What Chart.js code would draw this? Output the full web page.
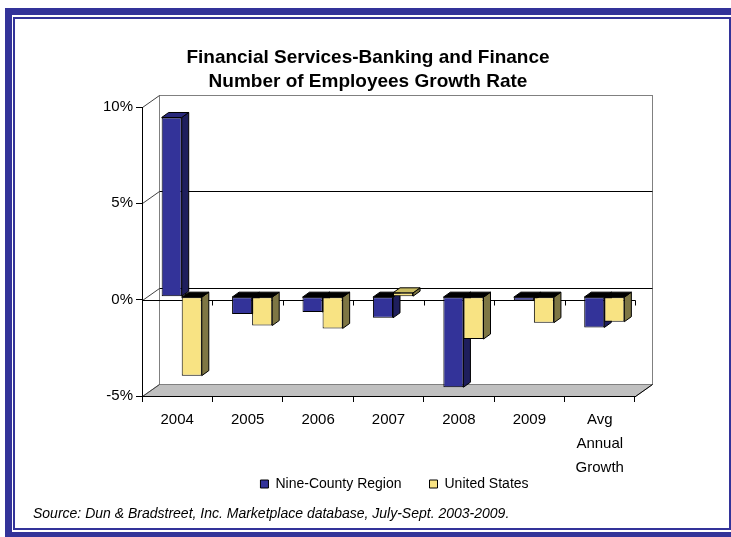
<!DOCTYPE html>
<html>
<head>
<meta charset="utf-8">
<title>Financial Services-Banking and Finance</title>
<script src="https://cdn.jsdelivr.net/npm/chart.js@4.4.0/dist/chart.umd.min.js"></script>
<style>
  html, body { margin: 0; padding: 0; background: #fff; overflow: hidden; }
  /* double blue frame, the outer band runs off the right edge */
  #frame-outer { position: absolute; left: 5px; top: 8px; width: 760px; height: 531px;
                 border: 7px solid #333399; box-sizing: border-box; }
  #frame-inner { position: absolute; left: 13px; top: 17px; width: 718px; height: 513px;
                 border: 2px solid #333399; box-sizing: border-box; }
  #wrap { position: absolute; left: 0; top: 0; width: 731px; height: 537px; }
</style>
</head>
<body>
<div id="frame-outer"></div>
<div id="frame-inner"></div>
<div id="wrap"><canvas id="growthChart" width="731" height="537"></canvas></div>
<script>
document.addEventListener('DOMContentLoaded', function() {

    // Growth rate of number of employees, percent
    const categories = ['2004', '2005', '2006', '2007', '2008', '2009', ['Avg', 'Annual', 'Growth']];
    const regionGrowth = [9.3, -0.9, -0.8, -1.1, -4.7, -0.2, -1.6];
    const usGrowth = [-4.1, -1.5, -1.65, 0.2, -2.2, -1.35, -1.3];
    const yTicks = [-5, 0, 5, 10];

    const FONT = 'Liberation Sans, Arial, sans-serif';

    // pseudo 3D offsets (pixels)
    const WALL = { dx: 17, dy: -12 };       // front plane -> back wall
    const BAR_SHIFT = { dx: 4.5, dy: -3 };  // bars sit a little behind the front plane
    const BAR_DEPTH = { dx: 7, dy: -5 };    // thickness of each bar
    const LEGEND_TOP = 449;                 // legend overlaps the tall axis-label box
    const LEGEND_NUDGE = 6;

    const faceColors = [
        { side: '#1e1e5c', top: '#28287a' },   // Nine-County Region
        { side: '#7e7644', top: '#c9bc62' }    // United States
    ];

    function line(ctx, x1, y1, x2, y2) {
        ctx.beginPath();
        ctx.moveTo(x1, y1);
        ctx.lineTo(x2, y2);
        ctx.stroke();
    }

    function poly(ctx, pts, fill) {
        ctx.beginPath();
        ctx.moveTo(pts[0][0], pts[0][1]);
        for (let i = 1; i < pts.length; i++) ctx.lineTo(pts[i][0], pts[i][1]);
        ctx.closePath();
        ctx.fillStyle = fill;
        ctx.fill();
        ctx.stroke();
    }

    const crisp = v => Math.round(v) + 0.5;

    // walls, floor and gridlines, plus the side and top faces of the bars
    const depthPlugin = {
        id: 'depth3d',
        afterLayout(chart) {
            // the title is centred on the whole canvas, not the plot
            const t = chart.titleBlock;
            if (t) {
                t.left = 0;
                t.right = chart.width + 5;
                t.width = t.right;
            }
            // legend is drawn clipped to its own box, so give it room
            const lg = chart.legend;
            if (lg) {
                lg.top = LEGEND_TOP;
                lg.bottom = LEGEND_TOP + 60;
                lg.left += LEGEND_NUDGE;
                lg.right += LEGEND_NUDGE;
            }
        },
        beforeDraw(chart) {
            const { ctx, chartArea: a, scales: { y } } = chart;
            const yTop = crisp(y.getPixelForValue(yTicks[yTicks.length - 1]));
            const yBot = crisp(y.getPixelForValue(yTicks[0]));
            const left = crisp(a.left), right = crisp(a.right);
            ctx.save();
            ctx.lineWidth = 1;

            // floor
            ctx.strokeStyle = '#808080';
            poly(ctx, [[left, yBot], [right, yBot], [right + WALL.dx, yBot + WALL.dy], [left + WALL.dx, yBot + WALL.dy]], '#c0c0c0');

            // back wall
            ctx.strokeStyle = '#808080';
            ctx.strokeRect(left + WALL.dx, yTop + WALL.dy, right - left, yBot - yTop);

            // gridlines on the back wall and their diagonals on the side wall
            yTicks.forEach(v => {
                const py = crisp(y.getPixelForValue(v));
                if (v !== yTicks[0] && v !== yTicks[yTicks.length - 1]) {
                    ctx.strokeStyle = '#000';
                    line(ctx, left + WALL.dx, py + WALL.dy, right + WALL.dx, py + WALL.dy);
                }
                ctx.strokeStyle = '#404040';
                line(ctx, left, py, left + WALL.dx, py + WALL.dy);
            });
            ctx.strokeStyle = '#000';
            line(ctx, right, yBot, right + WALL.dx, yBot + WALL.dy);

            // category axis crossing at 0 on the front plane
            const y0 = crisp(y.getPixelForValue(0));
            line(ctx, left, y0, right, y0);
            const n = categories.length;
            for (let i = 0; i <= n; i++) {
                const bx = crisp(a.left + (a.right - a.left) * i / n);
                line(ctx, bx, y0, bx, y0 + 5);
            }
            ctx.restore();
        },
        beforeDatasetsDraw(chart) {
            const { ctx } = chart;
            ctx.save();
            ctx.translate(BAR_SHIFT.dx, BAR_SHIFT.dy);
            ctx.lineWidth = 1;
            ctx.strokeStyle = '#000';
            const metas = chart.data.datasets.map((d, i) => chart.getDatasetMeta(i));
            for (let c = 0; c < categories.length; c++) {
                metas.forEach((meta, di) => {
                    const bar = meta.data[c];
                    const { x, y, base, width } = bar.getProps(['x', 'y', 'base', 'width'], true);
                    const l = x - width / 2, r = x + width / 2;
                    const top = Math.min(y, base), bottom = Math.max(y, base);
                    const fc = faceColors[di];
                    poly(ctx, [[r, top], [r + BAR_DEPTH.dx, top + BAR_DEPTH.dy],
                               [r + BAR_DEPTH.dx, bottom + BAR_DEPTH.dy], [r, bottom]], fc.side);
                    poly(ctx, [[l, top], [l + BAR_DEPTH.dx, top + BAR_DEPTH.dy],
                               [r + BAR_DEPTH.dx, top + BAR_DEPTH.dy], [r, top]],
                         y < base ? fc.top : '#000');
                });
            }
        },
        afterDatasetsDraw(chart) {
            chart.ctx.restore();
        }
    };

    const data = {
        labels: categories,
        datasets: [{
            label: 'Nine-County Region',
            data: regionGrowth,
            backgroundColor: '#333399',
            borderColor: '#000',
            borderWidth: 1,
            borderSkipped: false,
            clip: false
        }, {
            label: 'United States',
            data: usGrowth,
            backgroundColor: '#f8e383',
            borderColor: '#000',
            borderWidth: 1,
            borderSkipped: false,
            clip: false
        }]
    };

    const config = {
        type: 'bar',
        data: data,
        options: {
            responsive: false,
            maintainAspectRatio: false,
            animation: false,
            categoryPercentage: 0.57,
            barPercentage: 1,
            layout: { padding: { left: 33, right: 96, top: 0, bottom: 0 } },
            scales: {
                x: {
                    grid: { drawOnChartArea: false, tickLength: 6, color: '#000', offset: true },
                    border: { color: '#000' },
                    ticks: {
                        color: '#000', autoSkip: false, maxRotation: 0, padding: 6,
                        font: { family: FONT, size: 15, lineHeight: 1.6 }
                    },
                    afterFit: s => { s.height = 82; }
                },
                y: {
                    min: yTicks[0],
                    max: yTicks[yTicks.length - 1],
                    afterBuildTicks: s => { s.ticks = yTicks.map(v => ({ value: v })); },
                    grid: { drawOnChartArea: false, tickLength: 6, color: '#000' },
                    border: { color: '#000' },
                    ticks: {
                        color: '#000', padding: 3,
                        font: { family: FONT, size: 15 },
                        callback: v => v + '%'
                    },
                    afterFit: s => { s.width = 109; }
                }
            },
            plugins: {
                title: {
                    display: true,
                    text: ['Financial Services-Banking and Finance', 'Number of Employees Growth Rate'],
                    color: '#000',
                    font: { family: FONT, size: 19, weight: 'bold', lineHeight: 24 / 19 },
                    padding: { top: 46, bottom: 13 }
                },
                subtitle: {
                    display: true,
                    position: 'bottom',
                    align: 'start',
                    text: 'Source: Dun & Bradstreet, Inc. Marketplace database, July-Sept. 2003-2009.',
                    color: '#000',
                    font: { family: FONT, size: 14, style: 'italic', lineHeight: 1.2 },
                    padding: { top: 8.6, bottom: 14.6 }
                },
                legend: {
                    position: 'bottom',
                    fullSize: false,
                    maxHeight: 19,
                    labels: {
                        color: '#000', boxWidth: 8, boxHeight: 8, padding: 28,
                        font: { family: FONT, size: 14 }
                    }
                },
                tooltip: { enabled: false }
            }
        },
        plugins: [depthPlugin]
    };

    new Chart(document.getElementById('growthChart').getContext('2d'), config);
});
</script>
</body>
</html>
